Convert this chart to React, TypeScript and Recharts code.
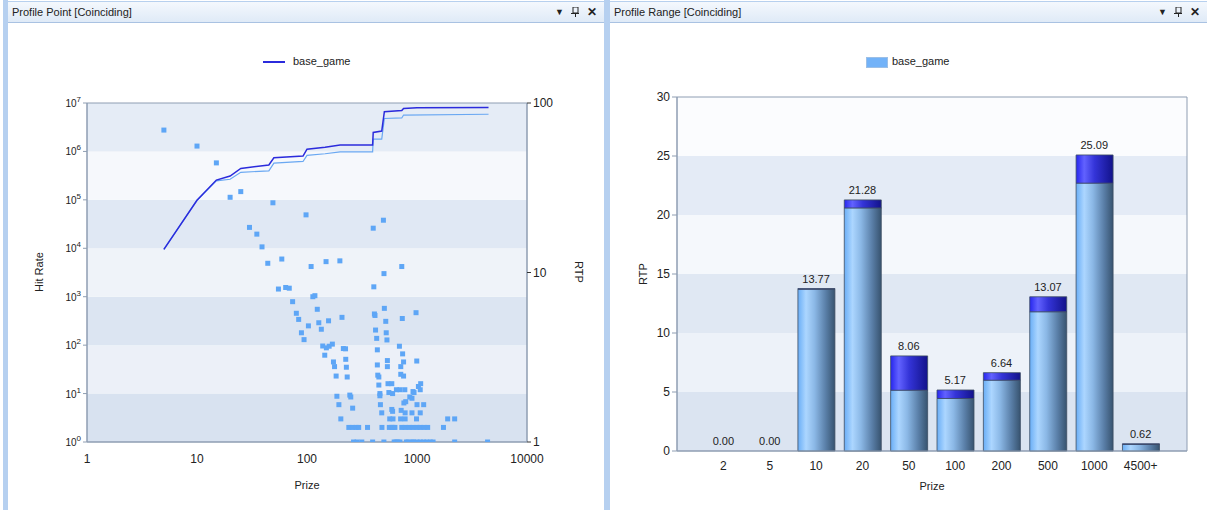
import React from "react";
import {
  ComposedChart,
  Bar,
  Line,
  Scatter,
  XAxis,
  YAxis,
  ReferenceArea,
  LabelList,
} from "recharts";

// ---- left panel: profile point ----
const prizeTicks = [1, 10, 100, 1000, 10000];
const hitTicks = [1, 10, 100, 1e3, 1e4, 1e5, 1e6, 1e7];
const rtpTicks = [1, 10, 100];
const hitBandColors = ["#d8e2f0", "#ecf0f8", "#dce5f2", "#eff3f9", "#e0e8f4", "#f6f8fc", "#e5ecf6"];

const totalLinePrize = [5, 10, 15, 20, 25, 45, 50, 92, 100, 146, 200, 395, 400, 478, 505, 727, 755, 1000, 4470];
const totalLineRtp = [13.7, 26.7, 35.1, 37.1, 41.1, 43.1, 47.5, 48.6, 53.4, 54.8, 56.5, 56.5, 67.0, 68.3, 88.8, 90.2, 92.9, 93.6, 94.1];
const baseLinePrize = [5, 10, 15, 20, 25, 45, 50, 92, 100, 146, 200, 395, 400, 478, 505, 727, 755, 4470];
const baseLineRtp = [13.7, 26.7, 34.7, 35.5, 39.0, 39.8, 44.2, 45.2, 49.1, 50.2, 51.5, 51.5, 61.3, 61.3, 81.0, 81.6, 84.9, 85.8];

const scatterPrize = [
  5, 10, 15, 20, 25, 49, 98, 30, 35, 39, 44, 59, 109, 149, 199, 400, 495, 727, 501, 405,
  55, 64, 69, 74, 113, 118, 80, 84, 124, 208, 157, 128, 103, 135, 89, 94, 410, 415, 505, 735,
  980, 520, 420, 525, 430, 533, 139, 150, 159, 170, 145, 214, 224, 436, 692, 740, 755, 995, 538, 538,
  225, 174, 228, 178, 436, 712, 712, 755, 184, 232, 440, 450, 450, 545, 590, 650, 700, 775, 1070, 1030,
  1080, 920, 940, 460, 460, 555, 600, 187, 245, 250, 860, 900, 195, 465, 760, 790, 1000, 1150, 260, 590,
  600, 718, 780, 478, 900, 1070, 203, 565, 605, 710, 780, 990, 1900, 2200,
  240, 260, 280, 295, 355, 480, 560, 590, 605, 630, 727, 780, 850, 920, 1000, 1070, 1160, 1250, 1740,
  265, 285, 315, 395, 500, 620, 645, 670, 700, 800, 830, 900, 930, 1000, 1070, 1150, 1230, 1320, 1400, 2200, 4380,
];
const scatterHits = [
  2.76e6, 1.29e6, 5.8e5, 1.13e5, 1.48e5, 8.7e4, 4.9e4, 2.7e4, 1.96e4, 1.07e4, 4900, 6000, 4200, 5300, 5500, 2.6e4, 3.8e4, 4200, 3000, 1600,
  1440, 1550, 1500, 790, 1000, 1050, 455, 340, 550, 375, 318, 290, 250, 213, 180, 130, 440, 410, 575, 355,
  468, 310, 205, 180, 138, 128, 96, 88, 95, 105, 62, 85, 84, 80, 95, 66, 45, 47, 48, 36,
  51, 45, 35, 36, 39, 36, 25, 23, 23, 22, 24, 22, 15, 16, 16, 12, 12, 12, 12, 14,
  16, 11, 10.5, 10, 9, 10.5, 10, 8.8, 9.3, 8.5, 8.5, 8, 5.9, 5.9, 6.4, 6.8, 5.9, 5.9, 5, 4.7,
  4.3, 4.5, 4, 4, 4, 4, 3, 3, 3, 3, 3, 3, 3, 3,
  2, 2, 2, 2, 2, 2, 2, 2, 2, 2, 2, 2, 2, 2, 2, 2, 2, 2, 2,
  1, 1, 1, 1, 1, 1, 1, 1, 1, 1, 1, 1, 1, 1, 1, 1, 1, 1, 1, 1, 1,
];

// ---- right panel: profile range ----
const rangeLabels = ["2", "5", "10", "20", "50", "100", "200", "500", "1000", "4500+"];
const rangeBase = [0, 0, 13.7, 20.6, 5.15, 4.45, 6.0, 11.8, 22.7, 0.55];
const rangeExtra = [0, 0, 0.07, 0.68, 2.91, 0.72, 0.64, 1.27, 2.39, 0.07];
const rangeTotal = [0, 0, 13.77, 21.28, 8.06, 5.17, 6.64, 13.07, 25.09, 0.62];
const rtpBandTicks = [0, 5, 10, 15, 20, 25, 30];
const rtpBandColors = ["#dbe4f1", "#edf2f9", "#e0e8f3", "#f5f8fc", "#e4ebf6", "#fbfcfe"];

const totalLine = totalLinePrize.map((p, i) => ({ prize: p, rtp: totalLineRtp[i] }));
const baseLine = baseLinePrize.map((p, i) => ({ prize: p, rtp: baseLineRtp[i] }));
const points = scatterPrize.map((p, i) => ({ prize: p, hits: scatterHits[i] }));
const rangeData = rangeLabels.map((label, i) => ({
  pos: i + 1,
  label,
  base: rangeBase[i],
  extra: rangeExtra[i],
  total: rangeTotal[i],
}));

const FONT = '"Liberation Sans", Arial, sans-serif';
const AXIS = "#8e9db2";
const TEXT = "#222";

function HitTick(props: any) {
  const { x, y, payload } = props;
  const exp = Math.round(Math.log10(payload.value));
  return (
    <text x={x} y={y + 4} textAnchor="end" fontSize={10} fill={TEXT} fontFamily={FONT}>
      <tspan>10</tspan>
      <tspan dy={-5} fontSize={8}>{exp}</tspan>
    </text>
  );
}

function Square(props: any) {
  const { cx, cy } = props;
  return <rect x={cx - 2.5} y={cy - 2.5} width={5} height={5} fill="#5ea6f6" />;
}

function TitleBar({ title, left, width }: { title: string; left: number; width: number }) {
  return (
    <div
      style={{
        position: "absolute",
        left,
        top: 1,
        width,
        height: 20,
        background: "linear-gradient(#f4f8fd, #dfeaf7)",
        borderBottom: "1px solid #a9c2e2",
        borderTop: "1px solid #b7d0ee",
        fontSize: 11,
        color: TEXT,
        lineHeight: "20px",
      }}
    >
      <span style={{ position: "absolute", left: 4 }}>{title}</span>
      <span style={{ position: "absolute", right: 40, fontSize: 9 }}>▼</span>
      <svg style={{ position: "absolute", right: 25, top: 5 }} width={8} height={10}>
        <rect x={2} y={0} width={5} height={6} fill="none" stroke="#222" strokeWidth={1} />
        <rect x={0} y={6} width={9} height={1} fill="#222" />
        <rect x={4} y={7} width={1} height={3} fill="#222" />
      </svg>
      <span style={{ position: "absolute", right: 7, fontWeight: "bold", fontSize: 12 }}>✕</span>
    </div>
  );
}

function Label({ text, x, y, rotate = 0 }: { text: string; x: number; y: number; rotate?: number }) {
  return (
    <div
      style={{
        position: "absolute",
        left: x,
        top: y,
        transform: `translate(-50%, -50%) rotate(${rotate}deg)`,
        fontSize: 11,
        color: TEXT,
        whiteSpace: "nowrap",
      }}
    >
      {text}
    </div>
  );
}

export default function App() {
  return (
    <div
      style={{
        position: "fixed",
        left: 0,
        top: 0,
        width: 1207,
        height: 510,
        background: "#fff",
        fontFamily: FONT,
        overflow: "hidden",
      }}
    >
      {/* window frames */}
      <div style={{ position: "absolute", left: 3, top: 0, width: 5, height: 510, background: "#b6d0f0" }} />
      <div style={{ position: "absolute", left: 604, top: 0, width: 6, height: 510, background: "#b6d0f0" }} />
      <TitleBar title="Profile Point [Coinciding]" left={8} width={596} />
      <TitleBar title="Profile Range [Coinciding]" left={610} width={597} />

      {/* left legend */}
      <div style={{ position: "absolute", left: 263, top: 61, width: 22, height: 2, background: "#2b2bdc" }} />
      <div style={{ position: "absolute", left: 293, top: 55, fontSize: 11, color: TEXT }}>base_game</div>

      {/* right legend */}
      <div
        style={{
          position: "absolute",
          left: 866,
          top: 57,
          width: 20,
          height: 9,
          background: "#72b2f8",
          border: "1px solid #9cbfe6",
        }}
      />
      <div style={{ position: "absolute", left: 892, top: 55, fontSize: 11, color: TEXT }}>base_game</div>

      <Label text="Hit Rate" x={39} y={272} rotate={-90} />
      <Label text="RTP" x={579} y={272} rotate={90} />
      <Label text="Prize" x={307} y={485} />
      <Label text="RTP" x={643} y={274} rotate={-90} />
      <Label text="Prize" x={932} y={486} />

      <div style={{ position: "absolute", left: 0, top: 20 }}>
        <ComposedChart width={607} height={485} margin={{ top: 83, right: 40, bottom: 33, left: 37 }}>
          <XAxis
            type="number"
            dataKey="prize"
            scale="log"
            domain={[1, 10000]}
            ticks={prizeTicks}
            allowDataOverflow
            height={30}
            tickLine={false}
            tickSize={0}
            tickMargin={12}
            axisLine={{ stroke: AXIS }}
            tick={{ fontSize: 12, fill: TEXT, fontFamily: FONT }}
          />
          <YAxis
            yAxisId="hit"
            type="number"
            dataKey="hits"
            scale="log"
            domain={[1, 1e7]}
            ticks={hitTicks}
            allowDataOverflow
            width={50}
            tickSize={4}
            tickMargin={2}
            tickLine={{ stroke: AXIS }}
            axisLine={{ stroke: AXIS }}
            tick={<HitTick />}
          />
          <YAxis
            yAxisId="rtp"
            orientation="right"
            type="number"
            dataKey="rtp"
            scale="log"
            domain={[1, 100]}
            ticks={rtpTicks}
            allowDataOverflow
            width={40}
            tickSize={4}
            tickMargin={2}
            tickLine={{ stroke: "#333" }}
            axisLine={{ stroke: AXIS }}
            tick={{ fontSize: 12, fill: TEXT, fontFamily: FONT }}
          />
          {hitBandColors.map((c, k) => (
            <ReferenceArea
              key={k}
              yAxisId="hit"
              x1={1}
              x2={10000}
              y1={hitTicks[k]}
              y2={hitTicks[k + 1]}
              fill={c}
              fillOpacity={1}
              stroke="none"
            />
          ))}
          <ReferenceArea
            yAxisId="hit"
            x1={1}
            x2={10000}
            y1={1}
            y2={1e7}
            fill="none"
            stroke={AXIS}
          />
          <Scatter
            yAxisId="hit"
            data={points}
            shape={<Square />}
            isAnimationActive={false}
          />
          <Line
            yAxisId="rtp"
            data={baseLine}
            dataKey="rtp"
            type="linear"
            stroke="#6aa8f2"
            strokeWidth={1.2}
            dot={false}
            isAnimationActive={false}
          />
          <Line
            yAxisId="rtp"
            data={totalLine}
            dataKey="rtp"
            type="linear"
            stroke="#2b2bdc"
            strokeWidth={1.5}
            dot={false}
            isAnimationActive={false}
          />
        </ComposedChart>
      </div>

      <div style={{ position: "absolute", left: 608, top: 20 }}>
        <ComposedChart
          width={599}
          height={485}
          data={rangeData}
          margin={{ top: 77, right: 20, bottom: 24, left: 39 }}
        >
          <defs>
            <linearGradient id="cylLight" x1="0" y1="0" x2="1" y2="0">
              <stop offset="0%" stopColor="#6aaef6" />
              <stop offset="22%" stopColor="#acd6ff" />
              <stop offset="45%" stopColor="#8bb8e6" />
              <stop offset="75%" stopColor="#5a7fa8" />
              <stop offset="100%" stopColor="#37536f" />
            </linearGradient>
            <linearGradient id="cylDark" x1="0" y1="0" x2="1" y2="0">
              <stop offset="0%" stopColor="#2626ee" />
              <stop offset="22%" stopColor="#6262ff" />
              <stop offset="50%" stopColor="#3434d8" />
              <stop offset="100%" stopColor="#12128a" />
            </linearGradient>
          </defs>
          <XAxis
            type="number"
            dataKey="pos"
            domain={[0, 11]}
            ticks={rangeData.map((d) => d.pos)}
            tickFormatter={(v: number) => rangeLabels[v - 1] ?? ""}
            allowDataOverflow
            height={30}
            tickLine={false}
            tickSize={0}
            tickMargin={10}
            axisLine={{ stroke: AXIS }}
            tick={{ fontSize: 12, fill: TEXT, fontFamily: FONT }}
          />
          <YAxis
            type="number"
            domain={[0, 30]}
            ticks={rtpBandTicks}
            width={30}
            tickSize={5}
            tickMargin={2}
            tickLine={{ stroke: AXIS }}
            axisLine={{ stroke: AXIS }}
            tick={{ fontSize: 12, fill: TEXT, fontFamily: FONT }}
          />
          {rtpBandColors.map((c, k) => (
            <ReferenceArea
              key={k}
              x1={0}
              x2={11}
              y1={rtpBandTicks[k]}
              y2={rtpBandTicks[k + 1]}
              fill={c}
              fillOpacity={1}
              stroke="none"
            />
          ))}
          <ReferenceArea x1={0} x2={11} y1={0} y2={30} fill="none" stroke={AXIS} />
          <Bar
            dataKey="base"
            stackId="a"
            barSize={37}
            fill="url(#cylLight)"
            stroke="#3d4e63"
            strokeWidth={0.8}
            isAnimationActive={false}
          />
          <Bar
            dataKey="extra"
            stackId="a"
            barSize={37}
            fill="url(#cylDark)"
            stroke="#3d4e63"
            strokeWidth={0.8}
            isAnimationActive={false}
          />
          <Line
            dataKey="total"
            stroke="none"
            dot={false}
            activeDot={false}
            legendType="none"
            isAnimationActive={false}
          >
            <LabelList
              dataKey="total"
              position="top"
              offset={6}
              formatter={(v: any) => Number(v).toFixed(2)}
              style={{ fontSize: 11, fill: TEXT, fontFamily: FONT }}
            />
          </Line>
        </ComposedChart>
      </div>
    </div>
  );
}
